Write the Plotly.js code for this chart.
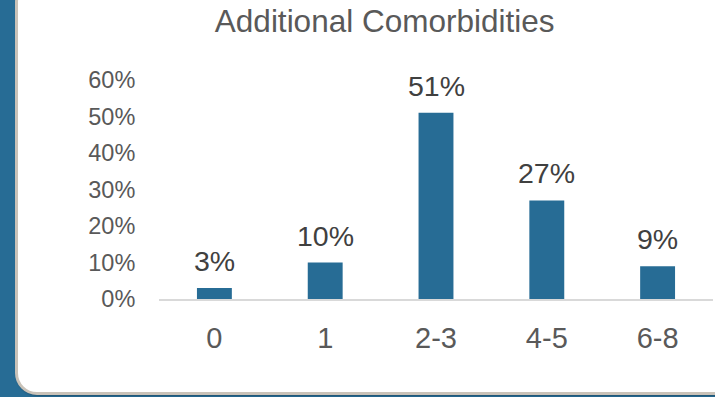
<!DOCTYPE html>
<html>
<head>
<meta charset="utf-8">
<script src="https://cdn.plot.ly/plotly-3.0.1.min.js"></script>
<style>
  html, body { margin:0; padding:0; width:715px; height:397px; overflow:hidden; background:#276c95; }
  #panel { position:absolute; left:15px; top:-20px; width:740px; height:415px; box-sizing:border-box;
           background:#ffffff; border:3px solid #c9c2b8; border-radius:22px; box-shadow: 1px 1px 2px rgba(0,0,0,0.25); }
  #chart { position:absolute; left:0; top:0; width:715px; height:397px; }
</style>
</head>
<body>
<div id="panel"></div>
<div id="chart"></div>
<script>
const categories = ["0", "1", "2-3", "4-5", "6-8"];
const values = [0.03, 0.10, 0.51, 0.27, 0.09];
const labels = ["3%", "10%", "51%", "27%", "9%"];
const yTickVals = [0, 0.1, 0.2, 0.3, 0.4, 0.5, 0.6];
const yTickText = ["0%", "10%", "20%", "30%", "40%", "50%", "60%"];
const chartTitle = "Additional Comorbidities";

const font = "Liberation Sans, Arial, sans-serif";

const trace = {
  type: "bar",
  x: categories,
  y: values,
  marker: { color: "#276c95" },
  hoverinfo: "skip"
};

const annotations = categories.map((c, i) => ({
  x: c, y: values[i], text: labels[i], showarrow: false,
  xanchor: "center", yanchor: "bottom", yshift: 9,
  font: { family: font, size: 28.5, color: "#404040" }
}));

const layout = {
  width: 715, height: 397,
  margin: { l: 159, r: 2, t: 80, b: 97.5, pad: 0 },
  paper_bgcolor: "rgba(0,0,0,0)",
  plot_bgcolor: "rgba(0,0,0,0)",
  bargap: 0.685,
  showlegend: false,
  title: {
    text: chartTitle,
    font: { family: font, size: 31.5, color: "#595959" },
    x: 0.538, xanchor: "center", y: 0.975, yanchor: "top", yref: "container"
  },
  xaxis: {
    type: "category",
    showgrid: false, zeroline: false,
    showline: true, linecolor: "#d9d9d9", linewidth: 2,
    ticks: "outside", ticklen: 12, tickcolor: "rgba(0,0,0,0)",
    tickfont: { family: font, size: 29, color: "#595959" }
  },
  yaxis: {
    range: [0, 0.6],
    tickvals: yTickVals, ticktext: yTickText,
    showgrid: false, zeroline: false, showline: false,
    ticks: "outside", ticklen: 18, tickcolor: "rgba(0,0,0,0)",
    tickfont: { family: font, size: 23.5, color: "#595959" }
  },
  annotations: annotations
};

Plotly.newPlot("chart", [trace], layout, { staticPlot: true, displayModeBar: false });
</script>
</body>
</html>
